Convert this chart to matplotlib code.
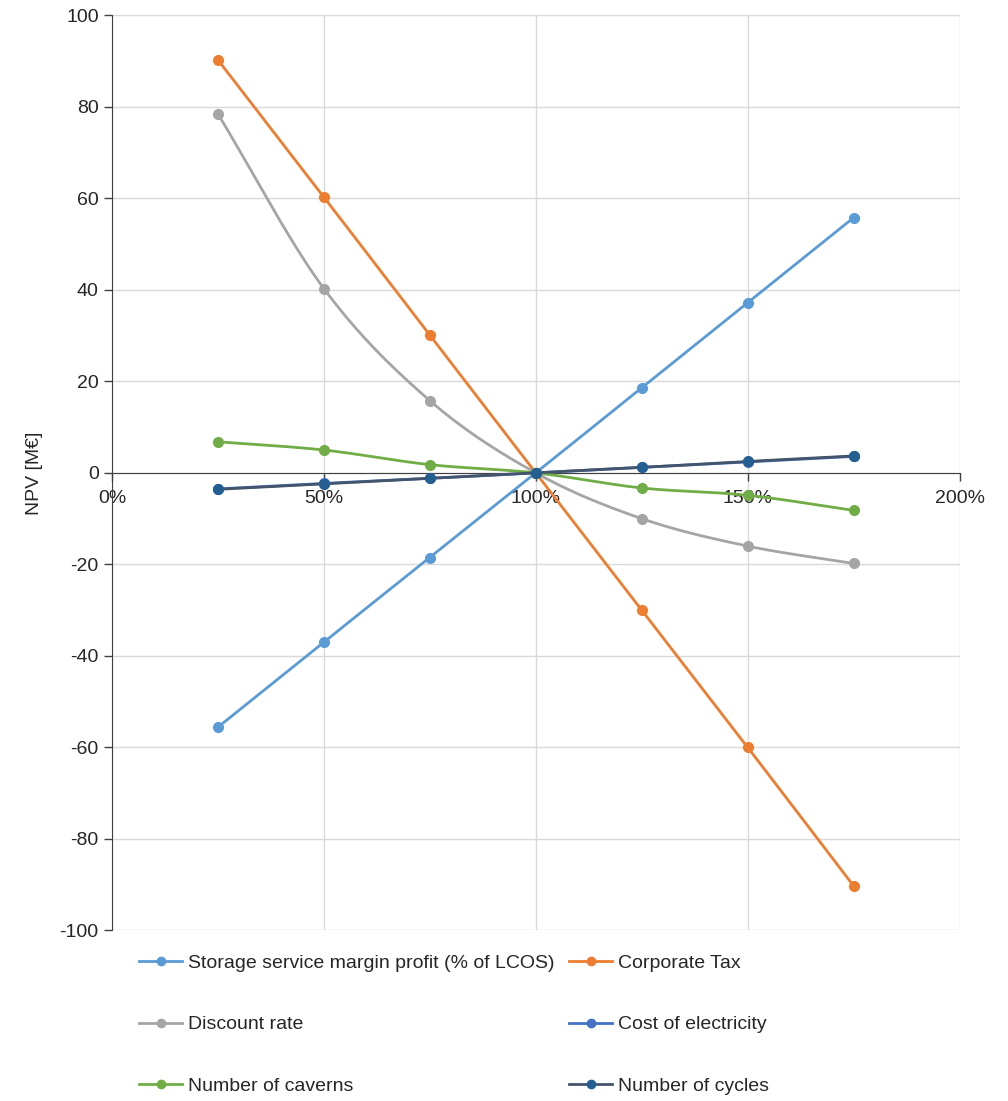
import numpy as np
import matplotlib.pyplot as plt
from matplotlib.ticker import FuncFormatter
from matplotlib.lines import Line2D

plt.rcParams['font.family'] = ['Liberation Sans', 'DejaVu Sans']
plt.rcParams['axes.unicode_minus'] = False

# ---------- data ----------
x_pct = [0.25, 0.50, 0.75, 1.00, 1.25, 1.50, 1.75]
storage_margin = [-55.6, -37.0, -18.5, 0.0, 18.6, 37.2, 55.8]
corporate_tax = [90.3, 60.3, 30.1, 0.0, -30.0, -60.0, -90.3]
discount_rate = [78.5, 40.3, 15.8, 0.0, -10.0, -16.0, -19.8]
cost_electricity = [-3.5, -2.3, -1.2, 0.0, 1.2, 2.4, 3.6]
num_caverns = [6.8, 5.0, 1.8, 0.0, -3.3, -4.9, -8.2]
num_cycles = [-3.6, -2.4, -1.2, 0.0, 1.2, 2.5, 3.7]

series = [
    ("Storage service margin profit (% of LCOS)", storage_margin, "#5B9BD5", "#5B9BD5"),
    ("Corporate Tax", corporate_tax, "#ED7D31", "#ED7D31"),
    ("Discount rate", discount_rate, "#A5A5A5", "#A5A5A5"),
    ("Cost of electricity", cost_electricity, "#4472C4", "#4472C4"),
    ("Number of caverns", num_caverns, "#70AD47", "#70AD47"),
    ("Number of cycles", num_cycles, "#44546A", "#255E91"),
]


# Excel-style smoothed line (Catmull-Rom through the points)
def smooth(x, y, n=30):
    x = np.asarray(x, float)
    y = np.asarray(y, float)
    px = np.concatenate([[2 * x[0] - x[1]], x, [2 * x[-1] - x[-2]]])
    py = np.concatenate([[2 * y[0] - y[1]], y, [2 * y[-1] - y[-2]]])
    xs, ys = [], []
    t = np.linspace(0, 1, n)
    for i in range(1, len(px) - 2):
        p0, p1, p2, p3 = (np.array([px[j], py[j]]) for j in range(i - 1, i + 3))
        m1 = (p2 - p0) / 2
        m2 = (p3 - p1) / 2
        h00 = 2 * t**3 - 3 * t**2 + 1
        h10 = t**3 - 2 * t**2 + t
        h01 = -2 * t**3 + 3 * t**2
        h11 = t**3 - t**2
        pts = np.outer(h00, p1) + np.outer(h10, m1) + np.outer(h01, p2) + np.outer(h11, m2)
        xs.extend(pts[:, 0])
        ys.extend(pts[:, 1])
    return xs, ys


fig = plt.figure(figsize=(10.08, 11.01), dpi=100)
ax = fig.add_axes([0.111, 0.155, 0.841, 0.831])

handles = []
for name, vals, lc, mc in series:
    sx, sy = smooth(x_pct, vals)
    ax.plot(sx, sy, color=lc, lw=2.0, zorder=3, solid_capstyle='round')
    ax.plot(x_pct, vals, 'o', color=mc, ms=7, zorder=4)
    handles.append(Line2D([0], [0], color=lc, lw=2.0, marker='o', ms=6,
                          markerfacecolor=mc, markeredgecolor=mc, label=name))

ax.set_xlim(0, 2)
ax.set_ylim(-100, 100)
ax.set_xticks([0, 0.5, 1.0, 1.5, 2.0])
ax.xaxis.set_major_formatter(FuncFormatter(lambda v, p: f"{v*100:.0f}%"))
ax.set_yticks(np.arange(-100, 101, 20))

ax.grid(True, color="#D9D9D9", lw=1.0, zorder=0)
ax.set_axisbelow(True)

for s in ['top', 'right']:
    ax.spines[s].set_visible(False)
ax.spines['bottom'].set_position(('data', 0))
ax.spines['bottom'].set_color('#404040')
ax.spines['left'].set_color('#404040')
ax.spines['bottom'].set_zorder(2)
ax.tick_params(axis='both', direction='out', length=6, width=1, color='#404040',
               labelsize=14, labelcolor='#262626')
ax.tick_params(axis='x', pad=6)

ax.set_ylabel("NPV [M€]", fontsize=14, color='#262626', labelpad=12)

order = [0, 2, 4, 1, 3, 5]
fig.legend([handles[i] for i in order], [series[i][0] for i in order],
           loc='upper left', bbox_to_anchor=(0.121, 0.149), ncol=2, frameon=False,
           fontsize=14, handlelength=2.2, handletextpad=0.3, columnspacing=0.75,
           labelspacing=2.25, labelcolor='#262626')

fig.savefig("out.png", dpi=100)
